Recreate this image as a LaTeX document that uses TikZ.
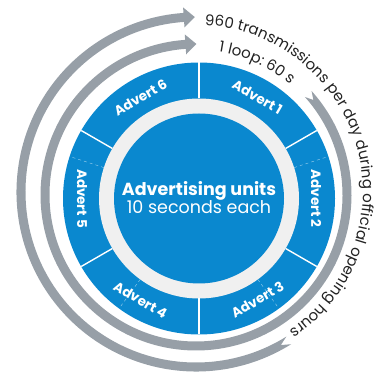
\documentclass[tikz,border=0pt]{standalone}
\usepackage{fontspec}
\setmainfont{Poppins}
\usetikzlibrary{calc,decorations.text}
\definecolor{adblue}{HTML}{0A88CF}
\definecolor{ringgray}{HTML}{F0F0F0}
\definecolor{loopgray}{HTML}{979FA7}
\definecolor{captiongray}{HTML}{222222}

% #1 centre, #2 radius, #3 tail angle, #4 head angle (clockwise)
\newcommand{\loopband}[4]{%
  \fill [loopgray] ($(#1)+({#3}:{#2+4.5})$) arc [start angle=#3, end angle=#4, radius=#2+4.5]
    -- ($(#1)+({#4}:{#2+10})$) -- ($(#1)+({#4-630/#2}:{#2})$) -- ($(#1)+({#4}:{#2-10})$)
    -- ($(#1)+({#4}:{#2-4.5})$) arc [start angle=#4, end angle=#3, radius=#2-4.5]
    -- ($(#1)+({#3-3}:{#2})$) -- cycle;}

\tikzset{advert/.style={text=white, inner sep=0pt, font=\bfseries\fontsize{13.5}{14}\selectfont},
  divider/.style={white, line width=1.4pt},
  faint/.style={white!60!adblue, line width=0.4pt, dashed}}

\begin{document}
\begin{tikzpicture}[x=1pt, y=1pt]
      \useasboundingbox (0,0) rectangle (391,385);
      \coordinate (newcenter) at (199,186.5);
      \coordinate (loopcenter) at (196,190);
      \coordinate (daycenter) at (196,193);

      % loops
      \loopband{daycenter}{175}{-58}{-266}
      \loopband{loopcenter}{151}{42}{-266}

      \path [decorate, decoration={text along path, text align=left,
        text={|\color{captiongray}\fontsize{15}{16}\selectfont|960 transmissions per day during official opening hours}}]
        ($(daycenter)+(87:167)$) arc [start angle=87, end angle=-100, radius=167];
      \path [decorate, decoration={text along path, text align=left,
        text={|\color{captiongray}\fontsize{15}{16}\selectfont|1 loop: 60 s}}]
        ($(loopcenter)+(81:145)$) arc [start angle=81, end angle=10, radius=145];

      % ring
      \fill [adblue] (newcenter) circle (136);
      \fill [ringgray] (newcenter) circle (100);
      \fill [adblue] (newcenter) circle (85);

      \draw [faint] ($(newcenter)+(18:100)$) -- ($(newcenter)+(18:136)$);
      \draw [faint] ($(newcenter)+(162:100)$) -- ($(newcenter)+(162:136)$);
      \draw [faint] ($(newcenter)+(234:100)$) -- ($(newcenter)+(234:136)$);
      \draw [faint] ($(newcenter)+(306:100)$) -- ($(newcenter)+(306:136)$);

      \draw [divider] ($(newcenter)+(90:100)$) -- ($(newcenter)+(90:136)$);
      \draw [divider] ($(newcenter)+(30:100)$) -- ($(newcenter)+(30:136)$);
      \draw [divider] ($(newcenter)+(-30:100)$) -- ($(newcenter)+(-30:136)$);
      \draw [divider] ($(newcenter)+(-90:100)$) -- ($(newcenter)+(-90:136)$);
      \draw [divider] ($(newcenter)+(-150:100)$) -- ($(newcenter)+(-150:136)$);
      \draw [divider] ($(newcenter)+(150:100)$) -- ($(newcenter)+(150:136)$);

      \node [advert, rotate=-30, name=ad1] at ($(newcenter)+(60:117)$) {Advert 1};
      \node [advert, rotate=-90, name=ad2] at ($(newcenter)+(0:117)$) {Advert 2};
      \node [advert, rotate=30, name=ad3] at ($(newcenter)+(-60:117)$) {Advert 3};
      \node [advert, rotate=-30, name=ad4] at ($(newcenter)+(-120:117)$) {Advert 4};
      \node [advert, rotate=-90, name=ad5] at ($(newcenter)+(180:117)$) {Advert 5};
      \node [advert, rotate=30, name=ad6] at ($(newcenter)+(120:117)$) {Advert 6};

      \node [align=center, text=white, name=units] at ($(newcenter)+(0,1)$)
        {{\bfseries\fontsize{17.5}{24}\selectfont Advertising units}\\
         {\fontsize{17.5}{24}\selectfont 10 seconds each}};
\end{tikzpicture}
\end{document}
